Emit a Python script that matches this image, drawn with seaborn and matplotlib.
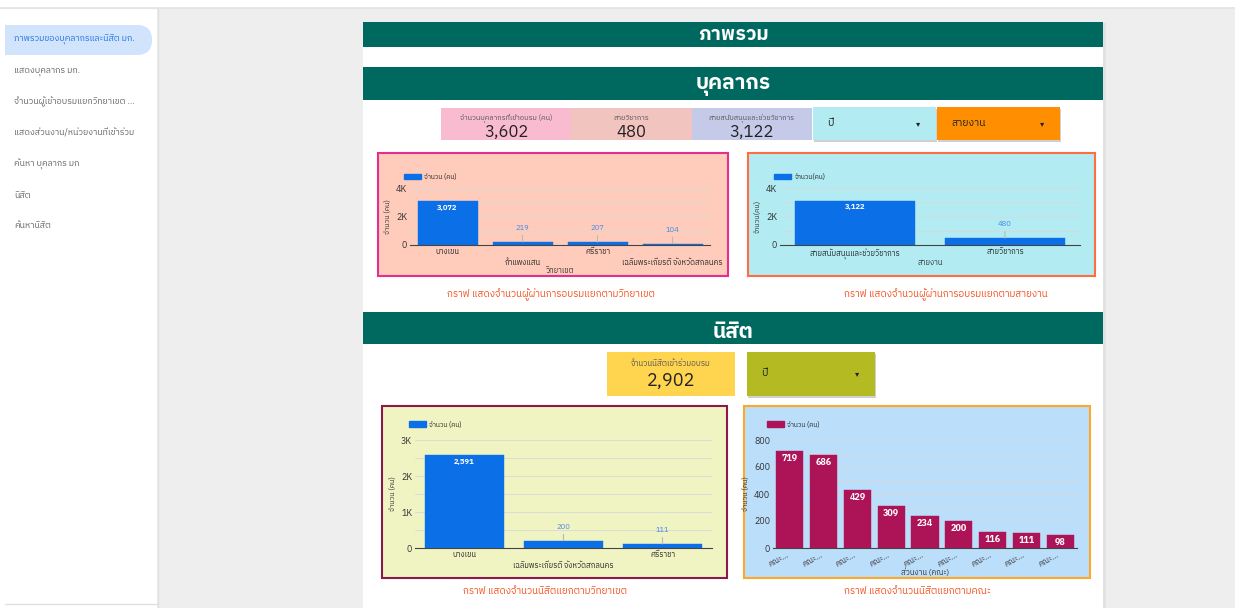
import numpy as np
import pandas as pd
import matplotlib
matplotlib.use("Agg")
import matplotlib.pyplot as plt
from matplotlib.patches import Rectangle, FancyBboxPatch, Patch
from matplotlib import font_manager
from matplotlib.ft2font import FT2Font
import seaborn as sns

# ---- data ----
menu_items = ["ภาพรวมของบุคลากรและนิสิต มก.", "แสดงบุคลากร มก.", "จำนวนผู้เข้าอบรมแยกวิทยาเขต ...",
              "แสดงส่วนงาน/หน่วยงานที่เข้าร่วม", "ค้นหา บุคลากร มก", "นิสิต", "ค้นหานิสิต"]

staff_card_labels = ["จำนวนบุคลากรที่เข้าอบรม (คน)", "สายวิชาการ", "สายสนับสนุนและช่วยวิชาการ"]
staff_card_values = [3602, 480, 3122]
student_card_label = "จำนวนนิสิตเข้าร่วมอบรม"
student_card_value = 2902

staff_campus = ["บางเขน", "กำแพงแสน", "ศรีราชา", "เฉลิมพระเกียรติ จังหวัดสกลนคร"]
staff_campus_counts = [3072, 219, 207, 104]

staff_type = ["สายสนับสนุนและช่วยวิชาการ", "สายวิชาการ"]
staff_type_counts = [3122, 480]

student_campus = ["บางเขน", "เฉลิมพระเกียรติ จังหวัดสกลนคร", "ศรีราชา"]
student_campus_counts = [2591, 200, 111]

faculty_labels = ["คณะ..."] * 9
faculty_counts = [719, 686, 429, 309, 234, 200, 116, 111, 98]

# ---- font with Thai glyphs ----
sns.set_style("white")
thai_font = None
cands = sorted(font_manager.fontManager.ttflist, key=lambda f: ("Thai" not in f.name, f.name))
for f in cands:
    try:
        if 0x0E01 in FT2Font(f.fname).get_charmap():
            thai_font = f.name
            break
    except Exception:
        pass
fams = [thai_font, "DejaVu Sans"] if thai_font else ["DejaVu Sans"]
plt.rcParams["font.family"] = fams

W, H = 1235, 608
fig = plt.figure(figsize=(W / 100, H / 100), dpi=100)
fig.patch.set_facecolor("#eeeeee")

bg = fig.add_axes([0, 0, 1, 1])
bg.set_xlim(0, W)
bg.set_ylim(H, 0)
bg.axis("off")


def rect(x0, y0, x1, y1, fc, ec="none", lw=0, z=1):
    bg.add_patch(Rectangle((x0, y0), x1 - x0, y1 - y0, facecolor=fc, edgecolor=ec, lw=lw, zorder=z))


# top strip
rect(0, 0, W, 7.5, "white")
bg.plot([0, W], [8, 8], color="#e2e2e2", lw=1.2, zorder=2)

# sidebar
rect(0, 8.5, 157, H, "white")
bg.plot([157.5, 157.5], [8.5, H], color="#e0e0e0", lw=1)
bg.plot([5, 157], [604, 604], color="#e0e0e0", lw=1)
rect(5, 25, 130, 55, "#d2e3fc", z=2)
bg.add_patch(FancyBboxPatch((100, 25), 52, 30, boxstyle="round,pad=0,rounding_size=15",
                            facecolor="#d2e3fc", edgecolor="none", zorder=2))
menu_y = [40, 72, 102, 133, 164, 195, 226]
for i, (t, y) in enumerate(zip(menu_items, menu_y)):
    bg.text(14, y, t, fontsize=6.3, va="center", ha="left", zorder=3,
            color="#1a73e8" if i == 0 else "#5f6368")

# report canvas
rect(1103, 23, 1105.5, H, "#e2e2e2")
rect(363, 22, 1103, H, "white")
teal = "#00695f"
rect(363, 22, 1103, 47, teal, z=2)
bg.text(733, 35, "ภาพรวม", color="white", fontsize=14, fontweight="bold", ha="center", va="center", zorder=3)
rect(363, 67, 1103, 100, teal, z=2)
bg.text(733, 87, "บุคลากร", color="white", fontsize=15, fontweight="bold", ha="center", va="center", zorder=3)
rect(363, 312, 1103, 344, teal, z=2)
bg.text(733, 332, "นิสิต", color="white", fontsize=15, fontweight="bold", ha="center", va="center", zorder=3)

# staff scorecards
card_x = [(441, 571, "#f8bbd0"), (571, 692, "#f2c4c0"), (692, 812, "#c5cae9")]
for (x0, x1, c), lab, val in zip(card_x, staff_card_labels, staff_card_values):
    rect(x0, 108, x1, 140, c, z=2)
    bg.text((x0 + x1) / 2, 118, lab, fontsize=5.2, color="#555555", ha="center", va="center", zorder=3)
    bg.text((x0 + x1) / 2, 132, f"{val:,}", fontsize=12, color="#222222", ha="center", va="center", zorder=3)


def dropdown(x0, y0, x1, y1, c, label):
    rect(x0 + 1, y0 + 1.5, x1 + 1, y1 + 1.5, "#d0d0d0", z=2)
    rect(x0, y0, x1, y1, c, z=2)
    bg.text(x0 + 14, (y0 + y1) / 2, label, fontsize=7.5, color="#222222", ha="left", va="center", zorder=3)
    bg.text(x1 - 18, (y0 + y1) / 2, "▾", fontsize=6, color="#222222", ha="center", va="center",
            family="DejaVu Sans", zorder=3)


dropdown(813, 107, 936, 140, "#b2ebf2", "ปี")
dropdown(937, 107, 1060, 140, "#ff8f00", "สายงาน")

# student scorecard + dropdown
rect(607, 352, 735, 396, "#ffd54f", z=2)
bg.text(671, 364, student_card_label, fontsize=5.8, color="#555555", ha="center", va="center", zorder=3)
bg.text(671, 381, f"{student_card_value:,}", fontsize=13, color="#222222", ha="center", va="center", zorder=3)
dropdown(747, 352, 875, 396, "#b4bb22", "ปี")

# chart frames
frames = [(378, 153, 728, 276, "#ffccbc", "#e62e8f"),
          (748, 153, 1095, 276, "#b2ebf2", "#ff6e40"),
          (382, 406, 727, 578, "#f0f4c3", "#8b1a4a"),
          (744, 406, 1090, 578, "#bbdefb", "#ffa726")]
for x0, y0, x1, y1, fc, ec in frames:
    rect(x0, y0, x1, y1, fc, ec=ec, lw=1.5, z=2)

captions = [(551, 295, "กราฟ แสดงจำนวนผู้ผ่านการอบรมแยกตามวิทยาเขต"),
            (946, 295, "กราฟ แสดงจำนวนผู้ผ่านการอบรมแยกตามสายงาน"),
            (545, 591, "กราฟ แสดงจำนวนนิสิตแยกตามวิทยาเขต"),
            (917, 591, "กราฟ แสดงจำนวนนิสิตแยกตามคณะ")]
for x, y, t in captions:
    bg.text(x, y, t, fontsize=7, color="#f4511e", ha="center", va="center", zorder=3)


def px_axes(x0, y0, x1, y1):
    return fig.add_axes([x0 / W, 1 - y1 / H, (x1 - x0) / W, (y1 - y0) / H])


def bar_chart(box, cats, vals, color, ymax, major, major_lbl, minor, ylabel, xlabel, legend_lbl,
              thr, stagger=False, rotate=False, inside_size=5.5):
    ax = px_axes(*box)
    df = pd.DataFrame({"k": np.arange(len(vals)), "v": vals})
    sns.barplot(data=df, x="k", y="v", color=color, width=0.8, ax=ax, saturation=1,
                edgecolor=color, linewidth=0.3)
    ax.set_facecolor("none")
    ax.set_ylim(0, ymax)
    ax.set_yticks(major)
    ax.set_yticklabels(major_lbl, fontsize=6.5, color="#333333")
    ax.set_yticks(minor, minor=True)
    ax.grid(axis="y", which="both", color="#d8d8d8", lw=0.6)
    ax.set_axisbelow(True)
    for s in ["top", "right", "left"]:
        ax.spines[s].set_visible(False)
    ax.spines["bottom"].set_color("#444444")
    ax.spines["bottom"].set_linewidth(0.8)
    ax.tick_params(axis="both", length=0, pad=2)
    labels = [("\n" + c if (stagger and i % 2 == 1) else c) for i, c in enumerate(cats)]
    ax.set_xticks(range(len(cats)))
    if rotate:
        ax.set_xticklabels(labels, fontsize=5.5, rotation=30, ha="right", style="italic", color="#333333")
    else:
        ax.set_xticklabels(labels, fontsize=5.5, color="#222222", linespacing=1.6)
    ax.set_xlabel(xlabel, fontsize=5.5, color="#333333", labelpad=0, style="italic" if rotate else "normal")
    ax.set_ylabel(ylabel, fontsize=5, color="#333333", labelpad=3, style="italic")
    for p, v in zip(ax.patches, vals):
        xc = p.get_x() + p.get_width() / 2
        if v / ymax > thr:
            ax.annotate(f"{v:,}", xy=(xc, v), xytext=(0, -2), textcoords="offset points", ha="center",
                        va="top", color="white", fontsize=inside_size, fontweight="bold")
        else:
            ax.annotate(f"{v:,}", xy=(xc, v), xytext=(0, 7), textcoords="offset points", ha="center",
                        va="bottom", color="#4a86e8", fontsize=5.5,
                        arrowprops=dict(arrowstyle="-", color="#b8b8b8", lw=0.8, shrinkA=0, shrinkB=0))
    ax.legend(handles=[Patch(facecolor=color, edgecolor=color)], labels=[legend_lbl],
              loc="lower left", bbox_to_anchor=(-0.03, 1.08), frameon=False, fontsize=4.8,
              handlelength=2.6, handleheight=1.0, borderaxespad=0, handletextpad=0.5)
    return ax


blue = "#0b6fe8"
bar_chart((410, 188, 710, 245), staff_campus, staff_campus_counts, blue, 4000,
          [0, 2000, 4000], ["0", "2K", "4K"], [1000, 3000], "จำนวน (คน)", "วิทยาเขต",
          "จำนวน (คน)", 0.3, stagger=True)
bar_chart((780, 188, 1080, 245), staff_type, staff_type_counts, blue, 4000,
          [0, 2000, 4000], ["0", "2K", "4K"], [1000, 3000], "จำนวน(คน)", "สายงาน",
          "จำนวน(คน)", 0.3)
bar_chart((415, 440, 712, 548), student_campus, student_campus_counts, blue, 3000,
          [0, 1000, 2000, 3000], ["0", "1K", "2K", "3K"], [500, 1500, 2500], "จำนวน (คน)", "",
          "จำนวน (คน)", 0.3, stagger=True)
bar_chart((773, 440, 1077, 548), faculty_labels, faculty_counts, "#ad1457", 800,
          [0, 200, 400, 600, 800], ["0", "200", "400", "600", "800"], [100, 300, 500, 700],
          "จำนวน (คน)", "ส่วนงาน (คณะ)", "จำนวน (คน)", 0.05, rotate=True, inside_size=6.5)

fig.savefig("out.png", dpi=100, facecolor=fig.get_facecolor())
